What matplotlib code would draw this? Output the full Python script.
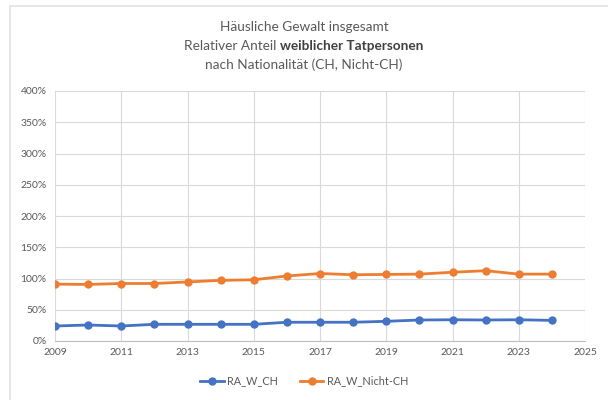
import matplotlib
matplotlib.use("Agg")
import matplotlib.pyplot as plt
from matplotlib.ticker import PercentFormatter
from matplotlib.lines import Line2D

years = list(range(2009, 2025))
ra_w_ch = [24, 25.6, 24, 26.7, 26.7, 26.7, 26.7, 30, 30, 30, 31.5, 33.6, 34, 33.6, 34, 33]
ra_w_nicht_ch = [91, 90.5, 92, 92, 94.5, 97, 98, 104, 108, 106, 106.5, 107, 110, 112.5, 107, 107]
series_names = ["RA_W_CH", "RA_W_Nicht-CH"]
xticks = list(range(2009, 2026, 2))
yticks = list(range(0, 401, 50))

plt.rcParams['font.family'] = ['Lato', 'DejaVu Sans']
txt = '#595959'

fig = plt.figure(figsize=(6.08, 4.0), dpi=100)
# chart-area border (only top and left edges visible in the crop)
fig.add_artist(Line2D([9.5/608, 1], [1 - 5.5/400, 1 - 5.5/400], transform=fig.transFigure,
                      color='#e3e3e3', linewidth=1.2))
fig.add_artist(Line2D([9.5/608, 9.5/608], [0, 1 - 5.5/400], transform=fig.transFigure,
                      color='#e3e3e3', linewidth=1.2))
ax = fig.add_axes([55/608, 59/400, 530/608, 250/400])

ax.plot(years, ra_w_ch, color='#4472c4', linewidth=2, marker='o', markersize=5, label=series_names[0])
ax.plot(years, ra_w_nicht_ch, color='#ed7d31', linewidth=2, marker='o', markersize=5, label=series_names[1])

ax.set_xlim(2009, 2025)
ax.set_ylim(0, 400)
ax.set_xticks(xticks)
ax.set_yticks(yticks)
ax.yaxis.set_major_formatter(PercentFormatter(decimals=0))
ax.grid(True, color='#d9d9d9', linewidth=0.8)
ax.set_axisbelow(True)
for s in ['top', 'right', 'left']:
    ax.spines[s].set_visible(False)
ax.spines['bottom'].set_color('#bfbfbf')
ax.tick_params(axis='both', length=0, labelsize=7.5, colors=txt, pad=6)
ax.tick_params(axis='x', pad=5)

leg = fig.legend(loc='center', bbox_to_anchor=(0.5, 1 - 381/400), ncol=2, frameon=False,
                 fontsize=7.8, handlelength=2.2, columnspacing=2.0, handletextpad=0.3)
for t in leg.get_texts():
    t.set_color(txt)

fs = 9.8
fig.text(0.5, 1 - 27/400, "Häusliche Gewalt insgesamt", ha='center', va='center', fontsize=fs, color=txt)
fig.text(0.5, 1 - 65/400, "nach Nationalität (CH, Nicht-CH)", ha='center', va='center', fontsize=fs, color=txt)
# mixed weight line
fig.canvas.draw()
r = fig.canvas.get_renderer()
t1 = fig.text(0, 1 - 46/400, "Relativer Anteil ", ha='left', va='center', fontsize=fs, color=txt)
t2 = fig.text(0, 1 - 46/400, "weiblicher Tatpersonen", ha='left', va='center', fontsize=fs,
              color='#404040', fontweight='bold')
w1 = t1.get_window_extent(r).width
w2 = t2.get_window_extent(r).width
W = fig.bbox.width
x0 = (W - w1 - w2) / 2
t1.set_x(x0 / W)
t2.set_x((x0 + w1) / W)

fig.savefig("out.png", dpi=100)
